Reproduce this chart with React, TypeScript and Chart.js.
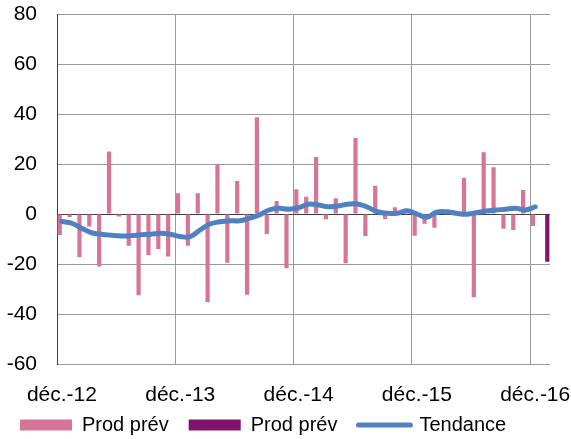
import React, { useEffect, useRef } from 'react';
import { Chart, registerables } from 'chart.js';

Chart.register(...registerables);

const categories = [
  'déc.-12', 'janv.-13', 'févr.-13', 'mars-13', 'avr.-13', 'mai-13', 'juin-13', 'juil.-13', 'août-13', 'sept.-13', 'oct.-13', 'nov.-13',
  'déc.-13', 'janv.-14', 'févr.-14', 'mars-14', 'avr.-14', 'mai-14', 'juin-14', 'juil.-14', 'août-14', 'sept.-14', 'oct.-14', 'nov.-14',
  'déc.-14', 'janv.-15', 'févr.-15', 'mars-15', 'avr.-15', 'mai-15', 'juin-15', 'juil.-15', 'août-15', 'sept.-15', 'oct.-15', 'nov.-15',
  'déc.-15', 'janv.-16', 'févr.-16', 'mars-16', 'avr.-16', 'mai-16', 'juin-16', 'juil.-16', 'août-16', 'sept.-16', 'oct.-16', 'nov.-16',
  'déc.-16', 'janv.-17',
];

const prodPrev: (number | null)[] = [
  -8.4, -1.2, -17.3, -5, -21, 25, -1, -12.7, -32.5, -16.4, -14, -17,
  8.3, -12.7, 8.3, -35.2, 20, -19.5, 13.2, -32.3, 38.7, -8, 5.2, -21.7,
  9.9, 6.9, 22.8, -2.1, 6.3, -19.7, 30.4, -8.8, 11.3, -2, 2.7, 1,
  -8.7, -3.9, -5.5, 0.5, -0.5, 14.4, -33.3, 24.7, 18.7, -5.9, -6.4, 9.6,
  -4.8, null,
];

const prodPrevForecast: (number | null)[] = [
  null, null, null, null, null, null, null, null, null, null, null, null,
  null, null, null, null, null, null, null, null, null, null, null, null,
  null, null, null, null, null, null, null, null, null, null, null, null,
  null, null, null, null, null, null, null, null, null, null, null, null,
  null, -19.1,
];

const tendance: (number | null)[] = [
  -3.0, -3.7, -5.7, -7.5, -8.1, -8.5, -8.8, -8.7, -8.3, -8.1, -7.7, -8.1,
  -9.0, -9.1, -6.4, -4.0, -3.1, -2.7, -2.7, -1.7, -0.4, 1.6, 2.3, 1.9,
  2.5, 3.9, 3.6, 2.9, 3.2, 3.9, 4.0, 2.7, 0.9, 0.3, 0.3, 1.3,
  0.0, -1.3, 0.7, 0.9, 0.3, -0.1, 0.5, 1.2, 1.6, 1.9, 2.3, 1.6,
  2.9, null,
];

const legendLabels = ['Prod prév', 'Prod prév', 'Tendance'];

const PINK = '#D77598';
const PURPLE = '#7F116F';
const BLUE = '#4F81C2';
const GRID = '#9A9A9A';
const AXIS = '#404040';

const isYearLine = (c: any) => c && c.type === 'tick' && typeof c.index === 'number' && c.index % 12 === 0;

export default function App() {
  const ref = useRef<HTMLCanvasElement | null>(null);

  useEffect(() => {
    const canvas = ref.current;
    if (!canvas) return;
    Chart.defaults.font.family = "'Liberation Sans', Arial, sans-serif";

    const layoutTweak = {
      id: 'layoutTweak',
      afterLayout(chart: any) {
        const lg = chart.legend;
        if (lg) {
          lg.top += 6;
          lg.bottom += 6;
        }
        const xs = chart.scales.x;
        if (xs) {
          xs.bottom += 24;
          xs.height += 24;
        }
      },
      afterDraw(chart: any) {
        const lg = chart.legend;
        if (!lg || !lg.legendHitBoxes) return;
        const hb = lg.legendHitBoxes[2];
        if (!hb) return;
        const c = chart.ctx;
        c.save();
        c.strokeStyle = BLUE;
        c.lineWidth = 5;
        c.lineCap = 'round';
        const y = hb.top + 10;
        c.beginPath();
        c.moveTo(hb.left + 1, y);
        c.lineTo(hb.left + 53, y);
        c.stroke();
        c.restore();
      },
    };

    const chart = new Chart(canvas, {
      type: 'bar',
      data: {
        labels: categories,
        datasets: [
          {
            type: 'bar',
            label: legendLabels[0],
            data: prodPrev,
            backgroundColor: PINK,
            borderWidth: 0,
            categoryPercentage: 0.9,
            barPercentage: 0.95,
            order: 1,
          },
          {
            type: 'bar',
            label: legendLabels[1],
            data: prodPrevForecast,
            backgroundColor: PURPLE,
            borderWidth: 0,
            categoryPercentage: 0.9,
            barPercentage: 0.95,
            order: 1,
          },
          {
            type: 'line',
            label: legendLabels[2],
            data: tendance,
            borderColor: BLUE,
            backgroundColor: BLUE,
            borderWidth: 5,
            pointRadius: 0,
            tension: 0.4,
            borderCapStyle: 'round',
            borderJoinStyle: 'round',
            order: 0,
          } as any,
        ],
      },
      options: {
        animation: false,
        responsive: false,
        maintainAspectRatio: false,
        layout: { padding: { top: 14, right: 21, left: 0, bottom: 0 } },
        plugins: {
          tooltip: { enabled: false },
          legend: {
            position: 'bottom',
            align: 'start',
            labels: {
              boxWidth: 52,
              boxHeight: 11,
              padding: 20,
              color: '#000',
              font: { size: 20 },
              generateLabels: () => [
                { text: legendLabels[0], fillStyle: PINK, strokeStyle: PINK, lineWidth: 0, hidden: false, datasetIndex: 0 },
                { text: legendLabels[1], fillStyle: PURPLE, strokeStyle: PURPLE, lineWidth: 0, hidden: false, datasetIndex: 1 },
                { text: legendLabels[2], fillStyle: 'rgba(0,0,0,0)', strokeStyle: 'rgba(0,0,0,0)', lineWidth: 0, hidden: false, datasetIndex: 2 },
              ] as any,
            },
          },
        },
        scales: {
          x: {
            offset: true,
            grid: {
              offset: true,
              drawTicks: false,
              lineWidth: (c: any) => (isYearLine(c) ? 1 : 0),
              color: (c: any) => (isYearLine(c) ? GRID : 'rgba(0,0,0,0)'),
            },
            border: { display: false, width: 0 },
            ticks: {
              autoSkip: false,
              maxRotation: 0,
              minRotation: 0,
              padding: 19,
              color: '#000',
              font: { size: 21 },
              callback: (_v: any, i: number) => (i % 12 === 0 ? categories[i] : ''),
            },
            afterFit: (s: any) => {
              s.height = 25;
            },
          },
          y: {
            min: -60,
            max: 80,
            ticks: { stepSize: 20, padding: 20, color: '#000', font: { size: 21 } },
            grid: {
              drawTicks: false,
              lineWidth: 1,
              color: (c: any) => (c.tick && c.tick.value === 0 ? AXIS : GRID),
            },
            border: { display: true, color: AXIS, width: 1 },
            afterFit: (s: any) => {
              s.width = 57;
              s.paddingTop = 0;
              s.paddingBottom = 0;
            },
          },
        },
      },
      plugins: [layoutTweak],
    });

    return () => chart.destroy();
  }, []);

  return (
    <div style={{ position: 'fixed', left: 0, top: 0, width: 571, height: 439, background: '#fff' }}>
      <canvas ref={ref} width={571} height={439} style={{ display: 'block' }} />
    </div>
  );
}
